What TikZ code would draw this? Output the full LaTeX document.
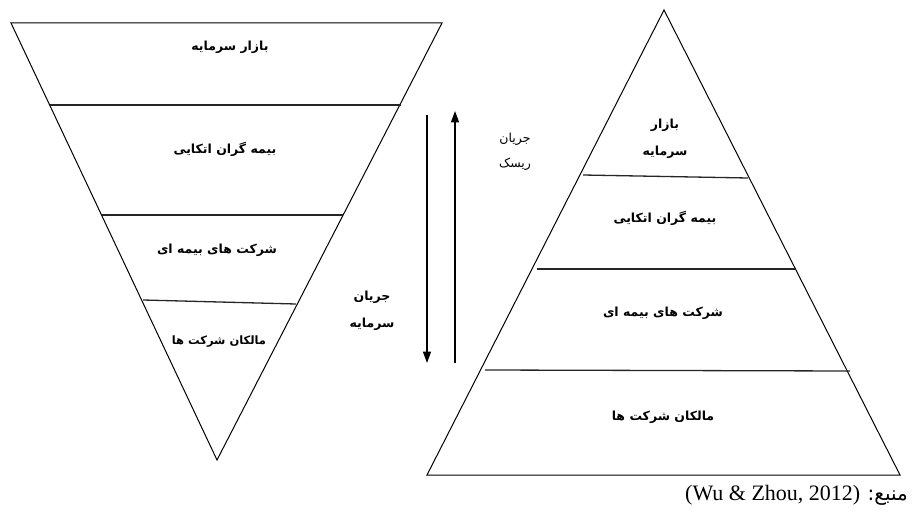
\documentclass[tikz,border=0pt]{standalone}
\usepackage{fontspec}
\setmainfont{Liberation Serif}
\newfontfamily\arabicfont[Script=Arabic]{DejaVu Sans}
\TeXXeTstate=1
\usetikzlibrary{arrows.meta}
\newcommand{\fatext}[1]{\beginR #1\endR}

\begin{document}
\begin{tikzpicture}[x=1pt,y=-1pt]
\tikzset{
  layerlabel/.style={font=\arabicfont\bfseries\fontsize{12.5}{27}\selectfont,align=center,inner sep=1pt},
  flowlabel/.style={font=\arabicfont\bfseries\fontsize{12.5}{27}\selectfont,align=center,inner sep=1pt},
  outline/.style={draw=black,line width=1pt,line join=miter},
  divider/.style={draw=black!85,line width=1.3pt},
  flow/.style={draw=black,line width=1.4pt,-{Triangle[length=4mm,width=2.8mm]}}
}
\useasboundingbox (0,0) rectangle (913,516);
% inverted triangle
\draw[outline] (11,23) -- (442,23) -- (217,460) -- cycle;
\draw[divider] (50,105) -- (401,105);
\draw[divider] (102,215) -- (343,215);
\draw[divider] (143,300) -- (296,304);
\node[layerlabel] (n_inv_market) at (230,47) {\fatext{بازار سرمایه}};
\node[layerlabel] (n_inv_reins) at (225,149) {\fatext{بیمه گران اتکایی}};
\node[layerlabel] (n_inv_insurers) at (217,250) {\fatext{شرکت های بیمه ای}};
\node[layerlabel,font=\arabicfont\bfseries\fontsize{11.5}{14}\selectfont] (n_inv_owners) at (219,342) {\fatext{مالکان شرکت ها}};
% pyramid
\draw[outline] (664,10) -- (900,475) -- (427,475) -- cycle;
\draw[divider] (583,175) -- (748,178);
\draw[divider] (537,269) -- (795,269);
\draw[divider] (485,370) -- (850,371);
\node[layerlabel] (n_pyr_market) at (665,139) {\fatext{بازار}\\\fatext{سرمایه}};
\node[layerlabel] (n_pyr_reins) at (665,218) {\fatext{بیمه گران اتکایی}};
\node[layerlabel] (n_pyr_insurers) at (663,313) {\fatext{شرکت های بیمه ای}};
\node[layerlabel] (n_pyr_owners) at (663,417) {\fatext{مالکان شرکت ها}};
% flows
\coordinate (c_capital_top) at (427,115);
\coordinate (c_capital_end) at (427,363);
\coordinate (c_risk_start) at (455,363);
\coordinate (c_risk_top) at (455,111);
\draw[flow] (c_capital_top) -- (c_capital_end);
\draw[flow] (c_risk_start) -- (c_risk_top);
\node[flowlabel] (n_capital) at (372,311) {\fatext{جریان}\\\fatext{سرمایه}};
\node[flowlabel,font=\arabicfont\fontsize{12.5}{25}\selectfont] (n_risk) at (515,152) {\fatext{جریان}\\\fatext{ریسک}};
% source
\node[anchor=east,font=\fontsize{22}{24}\selectfont,inner sep=0pt] (n_source) at (908,495)
  {\beginR{\arabicfont\fontsize{20}{24}\selectfont منبع:} \beginL(Wu \& Zhou, 2012)\endL\endR};
\end{tikzpicture}
\end{document}
